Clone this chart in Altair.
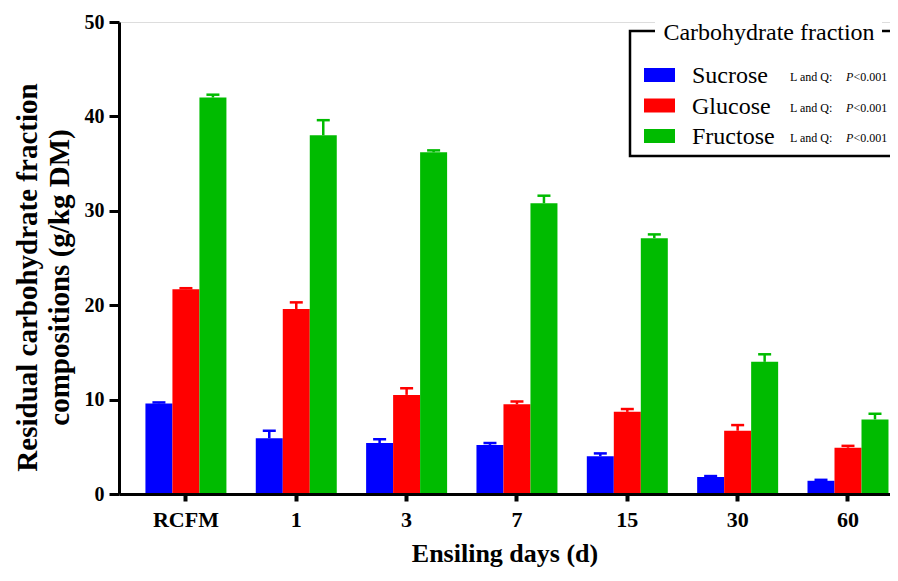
import altair as alt
import pandas as pd

days = ["RCFM", "1", "3", "7", "15", "30", "60"]
series = ["Sucrose", "Glucose", "Fructose"]
colors = ["#0000ff", "#ff0000", "#00bb00"]

sucrose = [9.6, 5.9, 5.4, 5.2, 4.0, 1.8, 1.4]
sucrose_err = [0.1, 0.8, 0.4, 0.2, 0.3, 0.1, 0.1]
glucose = [21.7, 19.6, 10.5, 9.5, 8.7, 6.7, 4.9]
glucose_err = [0.1, 0.7, 0.7, 0.3, 0.3, 0.6, 0.2]
fructose = [42.0, 38.0, 36.2, 30.8, 27.1, 14.0, 7.9]
fructose_err = [0.3, 1.6, 0.2, 0.8, 0.4, 0.8, 0.6]

stats = ["L and Q:", "L and Q:", "L and Q:"]
pvals = ["<0.001", "<0.001", "<0.001"]

rows = []
for s, vals, errs in zip(series, [sucrose, glucose, fructose],
                         [sucrose_err, glucose_err, fructose_err]):
    for d, v, e in zip(days, vals, errs):
        rows.append({"day": d, "carb": s, "value": v, "upper": round(v + e, 3)})
df = pd.DataFrame(rows)

FONT = "Liberation Serif"

x = alt.X("day:N", sort=days,
          scale=alt.Scale(paddingInner=0.266, paddingOuter=0.1266, align=0.946),
          axis=alt.Axis(title="Ensiling days (d)", labelAngle=0, domainColor="black",
                        domainWidth=3, tickColor="black", tickWidth=4, tickSize=7,
                        labelFont=FONT, labelFontSize=22, labelFontWeight="bold",
                        labelColor="black", labelPadding=8, titleFont=FONT,
                        titleFontSize=26, titleFontWeight="bold", titleColor="black",
                        titleBaseline="alphabetic", titleY=67, zindex=1))
xo = alt.XOffset("carb:N", sort=series, scale=alt.Scale(paddingInner=0, paddingOuter=0))
color = alt.Color("carb:N", scale=alt.Scale(domain=series, range=colors), legend=None)
y = alt.Y("value:Q", scale=alt.Scale(domain=[0, 50], nice=False),
          axis=alt.Axis(values=[0, 10, 20, 30, 40, 50], grid=False,
                        title=["Residual carbohydrate fraction", "compositions (g/kg DM)"],
                        domainColor="black", domainWidth=3, tickColor="black",
                        tickWidth=3, tickSize=10, labelFont=FONT, labelFontSize=20,
                        labelFontWeight="bold", labelColor="black", labelPadding=5,
                        titleFont=FONT, titleFontSize=29, titleFontWeight="bold",
                        titleColor="black", titleLineHeight=32, titleAngle=270,
                        titleBaseline="middle", titleAlign="center",
                        titleX=-92, titleY=255, zindex=1))

bars = alt.Chart(df).mark_bar().encode(x=x, xOffset=xo, y=y, color=color)
err = alt.Chart(df).mark_rule(strokeWidth=2.5).encode(
    x=x, xOffset=xo, y="value:Q", y2="upper:Q", color=color)
cap = alt.Chart(df).mark_tick(size=13, thickness=2.5, opacity=1).encode(
    x=x, xOffset=xo, y="upper:Q", color=color)

one = pd.DataFrame({"k": [0]})
box = alt.Chart(one).mark_rect(fillOpacity=0, stroke="black", strokeWidth=2.5).encode(
    x=alt.value(511), x2=alt.value(800), y=alt.value(9), y2=alt.value(134))
gap = alt.Chart(one).mark_rect(fill="white").encode(
    x=alt.value(536), x2=alt.value(763), y=alt.value(0), y2=alt.value(20))
ltitle = alt.Chart(one).mark_text(text="Carbohydrate fraction", font=FONT, fontSize=24,
                                  align="center", baseline="middle", color="black").encode(
    x=alt.value(650), y=alt.value(11))

legend_layers = [box, gap, ltitle]
for i, (s, c, st, pv) in enumerate(zip(series, colors, stats, pvals)):
    yc = 53 + 30.5 * i
    legend_layers.append(alt.Chart(one).mark_rect(fill=c).encode(
        x=alt.value(525), x2=alt.value(556), y=alt.value(yc - 7), y2=alt.value(yc + 7)))
    legend_layers.append(alt.Chart(one).mark_text(text=s, font=FONT, fontSize=24,
                                                  align="left", baseline="middle",
                                                  color="black").encode(
        x=alt.value(573), y=alt.value(yc + 1)))
    legend_layers.append(alt.Chart(one).mark_text(text=st, font=FONT, fontSize=12,
                                                  align="left", baseline="middle",
                                                  color="black").encode(
        x=alt.value(671), y=alt.value(yc + 2)))
    legend_layers.append(alt.Chart(one).mark_text(text="P", font=FONT, fontSize=12,
                                                  fontStyle="italic", align="left",
                                                  baseline="middle", color="black").encode(
        x=alt.value(727), y=alt.value(yc + 2)))
    legend_layers.append(alt.Chart(one).mark_text(text=pv, font=FONT, fontSize=12,
                                                  align="left", baseline="middle",
                                                  color="black").encode(
        x=alt.value(734.5), y=alt.value(yc + 2)))

chart = alt.layer(bars, err, cap, *legend_layers).properties(
    width=771, height=472,
    autosize=alt.AutoSizeParams(type="none"),
    padding={"left": 111, "top": 14, "right": 0, "bottom": 73},
).configure_view(stroke=None).configure(background="white")

chart.save("out.html", embed_options={"renderer": "svg", "actions": False})
